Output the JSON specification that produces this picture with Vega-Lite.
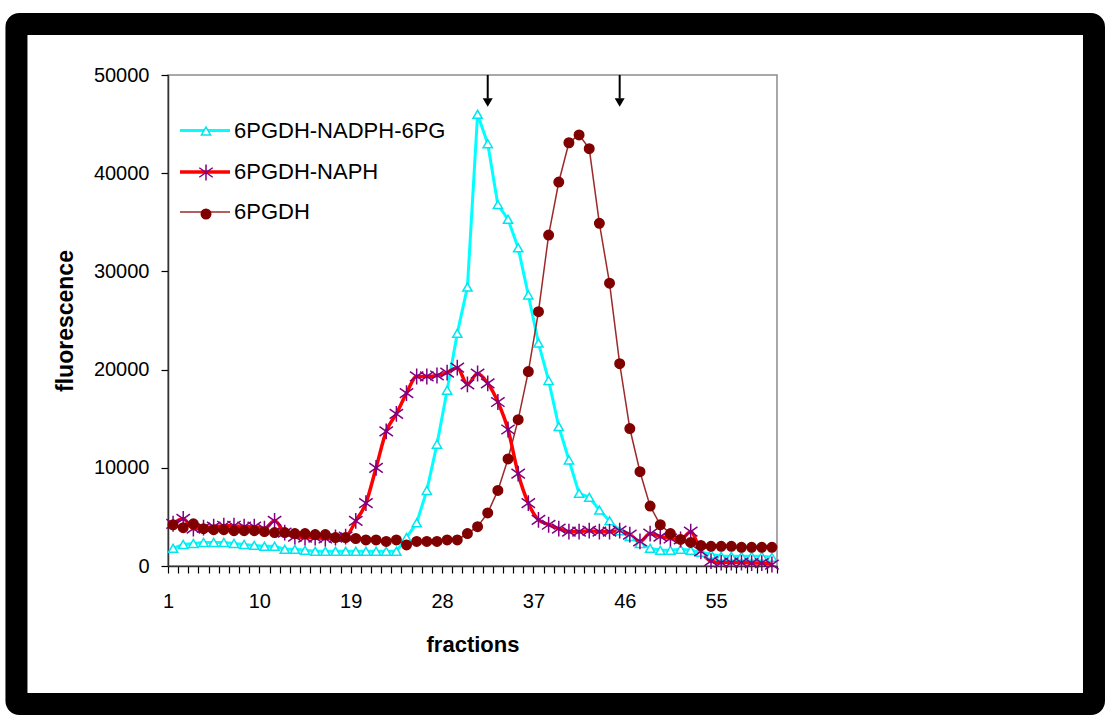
{
"$schema": "https://vega.github.io/schema/vega-lite/v6.json",
"width": 609, "height": 491,
"autosize": "none",
"padding": {"left": 168, "top": 75, "right": 328, "bottom": 150},
"background": "white",
"config": {"view": {"stroke": "#8c8c8c", "strokeWidth": 1.5}, "font": "Liberation Sans", "legend": {"padding": 0},
 "axisX": {"labelDx": 5, "labelOverlap": false, "labelFlush": false, "labelBound": false,
    "labelFont": "Liberation Sans", "labelFontSize": 20, "labelColor": "black", "labelPadding": 18,
    "tickSize": 7, "tickColor": "black", "tickWidth": 1.2, "domainColor": "#333333", "domainWidth": 1.5, "grid": false,
    "titleFont": "Liberation Sans", "titleFontSize": 22, "titleFontWeight": "bold", "titleColor": "black", "titlePadding": 23},
 "axisY": {"labelFont": "Liberation Sans", "labelFontSize": 20, "labelColor": "black", "labelPadding": 12,
    "tickSize": 7, "tickColor": "black", "tickWidth": 1.2, "domainColor": "#333333", "domainWidth": 1.5, "grid": false,
    "titleFont": "Liberation Sans", "titleFontSize": 23, "titleFontWeight": "bold", "titleColor": "black", "titlePadding": 16}},
"datasets": {
"curves": [
{"f":1,"series":"6PGDH-NADPH-6PG","v":1800},{"f":2,"series":"6PGDH-NADPH-6PG","v":2200},{"f":3,"series":"6PGDH-NADPH-6PG","v":2300},{"f":4,"series":"6PGDH-NADPH-6PG","v":2400},{"f":5,"series":"6PGDH-NADPH-6PG","v":2400},{"f":6,"series":"6PGDH-NADPH-6PG","v":2400},{"f":7,"series":"6PGDH-NADPH-6PG","v":2300},{"f":8,"series":"6PGDH-NADPH-6PG","v":2200},{"f":9,"series":"6PGDH-NADPH-6PG","v":2100},{"f":10,"series":"6PGDH-NADPH-6PG","v":2000},
{"f":11,"series":"6PGDH-NADPH-6PG","v":2000},{"f":12,"series":"6PGDH-NADPH-6PG","v":1700},{"f":13,"series":"6PGDH-NADPH-6PG","v":1700},{"f":14,"series":"6PGDH-NADPH-6PG","v":1600},{"f":15,"series":"6PGDH-NADPH-6PG","v":1500},{"f":16,"series":"6PGDH-NADPH-6PG","v":1500},{"f":17,"series":"6PGDH-NADPH-6PG","v":1500},{"f":18,"series":"6PGDH-NADPH-6PG","v":1500},{"f":19,"series":"6PGDH-NADPH-6PG","v":1500},{"f":20,"series":"6PGDH-NADPH-6PG","v":1500},
{"f":21,"series":"6PGDH-NADPH-6PG","v":1500},{"f":22,"series":"6PGDH-NADPH-6PG","v":1500},{"f":23,"series":"6PGDH-NADPH-6PG","v":1500},{"f":24,"series":"6PGDH-NADPH-6PG","v":2900},{"f":25,"series":"6PGDH-NADPH-6PG","v":4400},{"f":26,"series":"6PGDH-NADPH-6PG","v":7700},{"f":27,"series":"6PGDH-NADPH-6PG","v":12400},{"f":28,"series":"6PGDH-NADPH-6PG","v":17900},{"f":29,"series":"6PGDH-NADPH-6PG","v":23700},{"f":30,"series":"6PGDH-NADPH-6PG","v":28400},
{"f":31,"series":"6PGDH-NADPH-6PG","v":46000},{"f":32,"series":"6PGDH-NADPH-6PG","v":43000},{"f":33,"series":"6PGDH-NADPH-6PG","v":36800},{"f":34,"series":"6PGDH-NADPH-6PG","v":35300},{"f":35,"series":"6PGDH-NADPH-6PG","v":32400},{"f":36,"series":"6PGDH-NADPH-6PG","v":27600},{"f":37,"series":"6PGDH-NADPH-6PG","v":22700},{"f":38,"series":"6PGDH-NADPH-6PG","v":18900},{"f":39,"series":"6PGDH-NADPH-6PG","v":14200},{"f":40,"series":"6PGDH-NADPH-6PG","v":10800},
{"f":41,"series":"6PGDH-NADPH-6PG","v":7400},{"f":42,"series":"6PGDH-NADPH-6PG","v":7000},{"f":43,"series":"6PGDH-NADPH-6PG","v":5700},{"f":44,"series":"6PGDH-NADPH-6PG","v":4600},{"f":45,"series":"6PGDH-NADPH-6PG","v":3600},{"f":46,"series":"6PGDH-NADPH-6PG","v":3000},{"f":47,"series":"6PGDH-NADPH-6PG","v":2300},{"f":48,"series":"6PGDH-NADPH-6PG","v":1800},{"f":49,"series":"6PGDH-NADPH-6PG","v":1600},{"f":50,"series":"6PGDH-NADPH-6PG","v":1600},
{"f":51,"series":"6PGDH-NADPH-6PG","v":1700},{"f":52,"series":"6PGDH-NADPH-6PG","v":1600},{"f":53,"series":"6PGDH-NADPH-6PG","v":1400},{"f":54,"series":"6PGDH-NADPH-6PG","v":1200},{"f":55,"series":"6PGDH-NADPH-6PG","v":1000},{"f":56,"series":"6PGDH-NADPH-6PG","v":1000},{"f":57,"series":"6PGDH-NADPH-6PG","v":1000},{"f":58,"series":"6PGDH-NADPH-6PG","v":1000},{"f":59,"series":"6PGDH-NADPH-6PG","v":1000},{"f":60,"series":"6PGDH-NADPH-6PG","v":900},
{"f":1,"series":"6PGDH-NAPH","v":4300},{"f":2,"series":"6PGDH-NAPH","v":4800},{"f":3,"series":"6PGDH-NAPH","v":3800},{"f":4,"series":"6PGDH-NAPH","v":3900},{"f":5,"series":"6PGDH-NAPH","v":4000},{"f":6,"series":"6PGDH-NAPH","v":4100},{"f":7,"series":"6PGDH-NAPH","v":4100},{"f":8,"series":"6PGDH-NAPH","v":4000},{"f":9,"series":"6PGDH-NAPH","v":4000},{"f":10,"series":"6PGDH-NAPH","v":3800},
{"f":11,"series":"6PGDH-NAPH","v":4600},{"f":12,"series":"6PGDH-NAPH","v":3400},{"f":13,"series":"6PGDH-NAPH","v":3000},{"f":14,"series":"6PGDH-NAPH","v":2900},{"f":15,"series":"6PGDH-NAPH","v":2900},{"f":16,"series":"6PGDH-NAPH","v":2800},{"f":17,"series":"6PGDH-NAPH","v":2900},{"f":18,"series":"6PGDH-NAPH","v":3000},{"f":19,"series":"6PGDH-NAPH","v":4600},{"f":20,"series":"6PGDH-NAPH","v":6400},
{"f":21,"series":"6PGDH-NAPH","v":10000},{"f":22,"series":"6PGDH-NAPH","v":13700},{"f":23,"series":"6PGDH-NAPH","v":15500},{"f":24,"series":"6PGDH-NAPH","v":17600},{"f":25,"series":"6PGDH-NAPH","v":19300},{"f":26,"series":"6PGDH-NAPH","v":19300},{"f":27,"series":"6PGDH-NAPH","v":19400},{"f":28,"series":"6PGDH-NAPH","v":19700},{"f":29,"series":"6PGDH-NAPH","v":20200},{"f":30,"series":"6PGDH-NAPH","v":18500},
{"f":31,"series":"6PGDH-NAPH","v":19600},{"f":32,"series":"6PGDH-NAPH","v":18600},{"f":33,"series":"6PGDH-NAPH","v":16700},{"f":34,"series":"6PGDH-NAPH","v":13900},{"f":35,"series":"6PGDH-NAPH","v":9400},{"f":36,"series":"6PGDH-NAPH","v":6400},{"f":37,"series":"6PGDH-NAPH","v":4700},{"f":38,"series":"6PGDH-NAPH","v":4200},{"f":39,"series":"6PGDH-NAPH","v":3800},{"f":40,"series":"6PGDH-NAPH","v":3500},
{"f":41,"series":"6PGDH-NAPH","v":3500},{"f":42,"series":"6PGDH-NAPH","v":3600},{"f":43,"series":"6PGDH-NAPH","v":3500},{"f":44,"series":"6PGDH-NAPH","v":3500},{"f":45,"series":"6PGDH-NAPH","v":3600},{"f":46,"series":"6PGDH-NAPH","v":3200},{"f":47,"series":"6PGDH-NAPH","v":2500},{"f":48,"series":"6PGDH-NAPH","v":3300},{"f":49,"series":"6PGDH-NAPH","v":3000},{"f":50,"series":"6PGDH-NAPH","v":2800},
{"f":51,"series":"6PGDH-NAPH","v":2700},{"f":52,"series":"6PGDH-NAPH","v":3500},{"f":53,"series":"6PGDH-NAPH","v":1500},{"f":54,"series":"6PGDH-NAPH","v":500},{"f":55,"series":"6PGDH-NAPH","v":350},{"f":56,"series":"6PGDH-NAPH","v":350},{"f":57,"series":"6PGDH-NAPH","v":350},{"f":58,"series":"6PGDH-NAPH","v":300},{"f":59,"series":"6PGDH-NAPH","v":300},{"f":60,"series":"6PGDH-NAPH","v":150},
{"f":1,"series":"6PGDH","v":4200},{"f":2,"series":"6PGDH","v":3900},{"f":3,"series":"6PGDH","v":4300},{"f":4,"series":"6PGDH","v":3800},{"f":5,"series":"6PGDH","v":3700},{"f":6,"series":"6PGDH","v":3700},{"f":7,"series":"6PGDH","v":3600},{"f":8,"series":"6PGDH","v":3600},{"f":9,"series":"6PGDH","v":3600},{"f":10,"series":"6PGDH","v":3500},
{"f":11,"series":"6PGDH","v":3400},{"f":12,"series":"6PGDH","v":3400},{"f":13,"series":"6PGDH","v":3300},{"f":14,"series":"6PGDH","v":3300},{"f":15,"series":"6PGDH","v":3200},{"f":16,"series":"6PGDH","v":3200},{"f":17,"series":"6PGDH","v":2900},{"f":18,"series":"6PGDH","v":2900},{"f":19,"series":"6PGDH","v":2800},{"f":20,"series":"6PGDH","v":2650},
{"f":21,"series":"6PGDH","v":2650},{"f":22,"series":"6PGDH","v":2500},{"f":23,"series":"6PGDH","v":2650},{"f":24,"series":"6PGDH","v":2150},{"f":25,"series":"6PGDH","v":2500},{"f":26,"series":"6PGDH","v":2500},{"f":27,"series":"6PGDH","v":2500},{"f":28,"series":"6PGDH","v":2650},{"f":29,"series":"6PGDH","v":2650},{"f":30,"series":"6PGDH","v":3300},
{"f":31,"series":"6PGDH","v":4000},{"f":32,"series":"6PGDH","v":5400},{"f":33,"series":"6PGDH","v":7700},{"f":34,"series":"6PGDH","v":10900},{"f":35,"series":"6PGDH","v":14900},{"f":36,"series":"6PGDH","v":19800},{"f":37,"series":"6PGDH","v":25900},{"f":38,"series":"6PGDH","v":33700},{"f":39,"series":"6PGDH","v":39100},{"f":40,"series":"6PGDH","v":43100},
{"f":41,"series":"6PGDH","v":43900},{"f":42,"series":"6PGDH","v":42500},{"f":43,"series":"6PGDH","v":34900},{"f":44,"series":"6PGDH","v":28800},{"f":45,"series":"6PGDH","v":20600},{"f":46,"series":"6PGDH","v":14000},{"f":47,"series":"6PGDH","v":9600},{"f":48,"series":"6PGDH","v":6100},{"f":49,"series":"6PGDH","v":4200},{"f":50,"series":"6PGDH","v":3300},
{"f":51,"series":"6PGDH","v":2700},{"f":52,"series":"6PGDH","v":2400},{"f":53,"series":"6PGDH","v":2100},{"f":54,"series":"6PGDH","v":2000},{"f":55,"series":"6PGDH","v":2000},{"f":56,"series":"6PGDH","v":2000},{"f":57,"series":"6PGDH","v":1900},{"f":58,"series":"6PGDH","v":1900},{"f":59,"series":"6PGDH","v":1900},{"f":60,"series":"6PGDH","v":1900}
],
"arrows": [{"f":32,"top":50000,"tail":47600,"head":47200},{"f":45,"top":50000,"tail":47600,"head":47200}]
},
"layer": [
{"data": {"values": [{}]},
 "mark": {"type": "rect", "filled": false, "stroke": "black", "strokeWidth": 22, "cornerRadius": 3, "clip": false},
 "encoding": {
  "x": {"datum": -14.43, "type": "quantitative", "scale": {"domain": [0.5, 60.5], "nice": false, "zero": false},
   "axis": {"title": "fractions", "values": [0.5,1.5,2.5,3.5,4.5,5.5,6.5,7.5,8.5,9.5,10.5,11.5,12.5,13.5,14.5,15.5,16.5,17.5,18.5,19.5,20.5,21.5,22.5,23.5,24.5,25.5,26.5,27.5,28.5,29.5,30.5,31.5,32.5,33.5,34.5,35.5,36.5,37.5,38.5,39.5,40.5,41.5,42.5,43.5,44.5,45.5,46.5,47.5,48.5,49.5,50.5,51.5,52.5,53.5,54.5,55.5,56.5,57.5,58.5,59.5,60.5],
    "labelExpr": "(datum.value - 0.5) % 9 == 0 && datum.value < 60 ? format(datum.value + 0.5, 'd') : ''"}},
  "x2": {"datum": 91.73},
  "y": {"datum": 55193, "type": "quantitative", "scale": {"domain": [0, 50000], "nice": false},
   "axis": {"title": "fluorescence", "values": [0,10000,20000,30000,40000,50000], "format": "d"}},
  "y2": {"datum": -14053}}},
{"data": {"name": "curves"},
 "transform": [{"filter": "datum.series != '6PGDH-NAPH'"}],
 "mark": {"type": "line", "interpolate": "linear"},
 "encoding": {
  "x": {"field": "f", "type": "quantitative", "scale": {"domain": [0.5, 60.5], "nice": false, "zero": false},
   "axis": {"title": "fractions", "values": [0.5,1.5,2.5,3.5,4.5,5.5,6.5,7.5,8.5,9.5,10.5,11.5,12.5,13.5,14.5,15.5,16.5,17.5,18.5,19.5,20.5,21.5,22.5,23.5,24.5,25.5,26.5,27.5,28.5,29.5,30.5,31.5,32.5,33.5,34.5,35.5,36.5,37.5,38.5,39.5,40.5,41.5,42.5,43.5,44.5,45.5,46.5,47.5,48.5,49.5,50.5,51.5,52.5,53.5,54.5,55.5,56.5,57.5,58.5,59.5,60.5],
    "labelExpr": "(datum.value - 0.5) % 9 == 0 && datum.value < 60 ? format(datum.value + 0.5, 'd') : ''"}},
  "y": {"field": "v", "type": "quantitative", "scale": {"domain": [0, 50000], "nice": false},
   "axis": {"title": "fluorescence", "values": [0,10000,20000,30000,40000,50000], "format": "d"}},
  "color": {"field": "series", "type": "nominal",
   "scale": {"domain": ["6PGDH-NADPH-6PG", "6PGDH-NAPH", "6PGDH"], "range": ["#00ffff", "#ff0000", "#9c2a2a"]},
   "legend": {"orient": "none", "legendX": 25, "legendY": 44, "title": null, "symbolType": "M-2.5,0H2.5", "symbolSize": 400, "labelLimit": 400,
    "labelFont": "Liberation Sans", "labelFontSize": 22, "labelColor": "black", "labelOffset": 17, "rowPadding": 18, "symbolOpacity": 1}},
  "strokeWidth": {"field": "series", "type": "nominal",
   "scale": {"type": "ordinal", "domain": ["6PGDH-NADPH-6PG", "6PGDH-NAPH", "6PGDH"], "range": [3, 3.5, 1.5]}}
 }},
{"data": {"name": "curves"},
 "transform": [{"filter": "datum.series == '6PGDH-NAPH'"}],
 "mark": {"type": "line", "interpolate": "monotone"},
 "encoding": {
  "x": {"field": "f", "type": "quantitative", "scale": {"domain": [0.5, 60.5], "nice": false, "zero": false},
   "axis": {"title": "fractions", "values": [0.5,1.5,2.5,3.5,4.5,5.5,6.5,7.5,8.5,9.5,10.5,11.5,12.5,13.5,14.5,15.5,16.5,17.5,18.5,19.5,20.5,21.5,22.5,23.5,24.5,25.5,26.5,27.5,28.5,29.5,30.5,31.5,32.5,33.5,34.5,35.5,36.5,37.5,38.5,39.5,40.5,41.5,42.5,43.5,44.5,45.5,46.5,47.5,48.5,49.5,50.5,51.5,52.5,53.5,54.5,55.5,56.5,57.5,58.5,59.5,60.5],
    "labelExpr": "(datum.value - 0.5) % 9 == 0 && datum.value < 60 ? format(datum.value + 0.5, 'd') : ''"}},
  "y": {"field": "v", "type": "quantitative", "scale": {"domain": [0, 50000], "nice": false},
   "axis": {"title": "fluorescence", "values": [0,10000,20000,30000,40000,50000], "format": "d"}},
  "color": {"field": "series", "type": "nominal",
   "scale": {"domain": ["6PGDH-NADPH-6PG", "6PGDH-NAPH", "6PGDH"], "range": ["#00ffff", "#ff0000", "#9c2a2a"]}},
  "strokeWidth": {"field": "series", "type": "nominal",
   "scale": {"type": "ordinal", "domain": ["6PGDH-NADPH-6PG", "6PGDH-NAPH", "6PGDH"], "range": [3, 3.5, 1.5]}}
 }},
{"data": {"name": "curves"},
 "mark": {"type": "point", "filled": false, "strokeWidth": 1.5, "opacity": 1},
 "encoding": {
  "x": {"field": "f", "type": "quantitative", "scale": {"domain": [0.5, 60.5], "nice": false, "zero": false},
   "axis": {"title": "fractions", "values": [0.5,1.5,2.5,3.5,4.5,5.5,6.5,7.5,8.5,9.5,10.5,11.5,12.5,13.5,14.5,15.5,16.5,17.5,18.5,19.5,20.5,21.5,22.5,23.5,24.5,25.5,26.5,27.5,28.5,29.5,30.5,31.5,32.5,33.5,34.5,35.5,36.5,37.5,38.5,39.5,40.5,41.5,42.5,43.5,44.5,45.5,46.5,47.5,48.5,49.5,50.5,51.5,52.5,53.5,54.5,55.5,56.5,57.5,58.5,59.5,60.5],
    "labelExpr": "(datum.value - 0.5) % 9 == 0 && datum.value < 60 ? format(datum.value + 0.5, 'd') : ''"}},
  "y": {"field": "v", "type": "quantitative", "scale": {"domain": [0, 50000], "nice": false},
   "axis": {"title": "fluorescence", "values": [0,10000,20000,30000,40000,50000], "format": "d"}},
  "shape": {"field": "series", "type": "nominal",
   "scale": {"range": ["circle", "triangle-up", "M-0.85,-0.6L0.85,0.6M-0.85,0.6L0.85,-0.6M0,-1L0,1"]},
   "legend": {"orient": "none", "legendX": 28, "legendY": 46, "title": null, "values": ["6PGDH-NADPH-6PG", "6PGDH-NAPH", "6PGDH"], "labelFontSize": 20, "labelExpr": "''", "rowPadding": 20.5, "symbolOpacity": 1}},
  "stroke": {"field": "series", "type": "nominal",
   "scale": {"range": ["#800000", "#00e5ee", "#800080"]},
   "legend": {"orient": "none", "legendX": 28, "legendY": 46, "title": null, "values": ["6PGDH-NADPH-6PG", "6PGDH-NAPH", "6PGDH"], "labelFontSize": 20, "labelExpr": "''", "rowPadding": 20.5, "symbolOpacity": 1}},
  "fill": {"field": "series", "type": "nominal",
   "scale": {"range": ["#800000", "#ffffff", "transparent"]},
   "legend": {"orient": "none", "legendX": 28, "legendY": 46, "title": null, "values": ["6PGDH-NADPH-6PG", "6PGDH-NAPH", "6PGDH"], "labelFontSize": 20, "labelExpr": "''", "rowPadding": 20.5, "symbolOpacity": 1}},
  "size": {"field": "series", "type": "nominal",
   "scale": {"type": "ordinal", "range": [90, 85, 250]},
   "legend": {"orient": "none", "legendX": 28, "legendY": 46, "title": null, "values": ["6PGDH-NADPH-6PG", "6PGDH-NAPH", "6PGDH"], "labelFontSize": 20, "labelExpr": "''", "rowPadding": 20.5, "symbolOpacity": 1}}
 }},
{"data": {"name": "arrows"},
 "mark": {"type": "rule", "color": "black", "strokeWidth": 2},
 "encoding": {
  "x": {"field": "f", "type": "quantitative", "scale": {"domain": [0.5, 60.5], "nice": false, "zero": false},
   "axis": {"title": "fractions", "values": [0.5,1.5,2.5,3.5,4.5,5.5,6.5,7.5,8.5,9.5,10.5,11.5,12.5,13.5,14.5,15.5,16.5,17.5,18.5,19.5,20.5,21.5,22.5,23.5,24.5,25.5,26.5,27.5,28.5,29.5,30.5,31.5,32.5,33.5,34.5,35.5,36.5,37.5,38.5,39.5,40.5,41.5,42.5,43.5,44.5,45.5,46.5,47.5,48.5,49.5,50.5,51.5,52.5,53.5,54.5,55.5,56.5,57.5,58.5,59.5,60.5],
    "labelExpr": "(datum.value - 0.5) % 9 == 0 && datum.value < 60 ? format(datum.value + 0.5, 'd') : ''"}},
  "y": {"field": "top", "type": "quantitative", "scale": {"domain": [0, 50000], "nice": false},
   "axis": {"title": "fluorescence", "values": [0,10000,20000,30000,40000,50000], "format": "d"}},
  "y2": {"field": "tail"}}},
{"data": {"name": "arrows"},
 "mark": {"type": "point", "shape": "triangle-down", "filled": true, "color": "black", "size": 100, "opacity": 1},
 "encoding": {
  "x": {"field": "f", "type": "quantitative", "scale": {"domain": [0.5, 60.5], "nice": false, "zero": false},
   "axis": {"title": "fractions", "values": [0.5,1.5,2.5,3.5,4.5,5.5,6.5,7.5,8.5,9.5,10.5,11.5,12.5,13.5,14.5,15.5,16.5,17.5,18.5,19.5,20.5,21.5,22.5,23.5,24.5,25.5,26.5,27.5,28.5,29.5,30.5,31.5,32.5,33.5,34.5,35.5,36.5,37.5,38.5,39.5,40.5,41.5,42.5,43.5,44.5,45.5,46.5,47.5,48.5,49.5,50.5,51.5,52.5,53.5,54.5,55.5,56.5,57.5,58.5,59.5,60.5],
    "labelExpr": "(datum.value - 0.5) % 9 == 0 && datum.value < 60 ? format(datum.value + 0.5, 'd') : ''"}},
  "y": {"field": "head", "type": "quantitative", "scale": {"domain": [0, 50000], "nice": false},
   "axis": {"title": "fluorescence", "values": [0,10000,20000,30000,40000,50000], "format": "d"}}}}
]
}
